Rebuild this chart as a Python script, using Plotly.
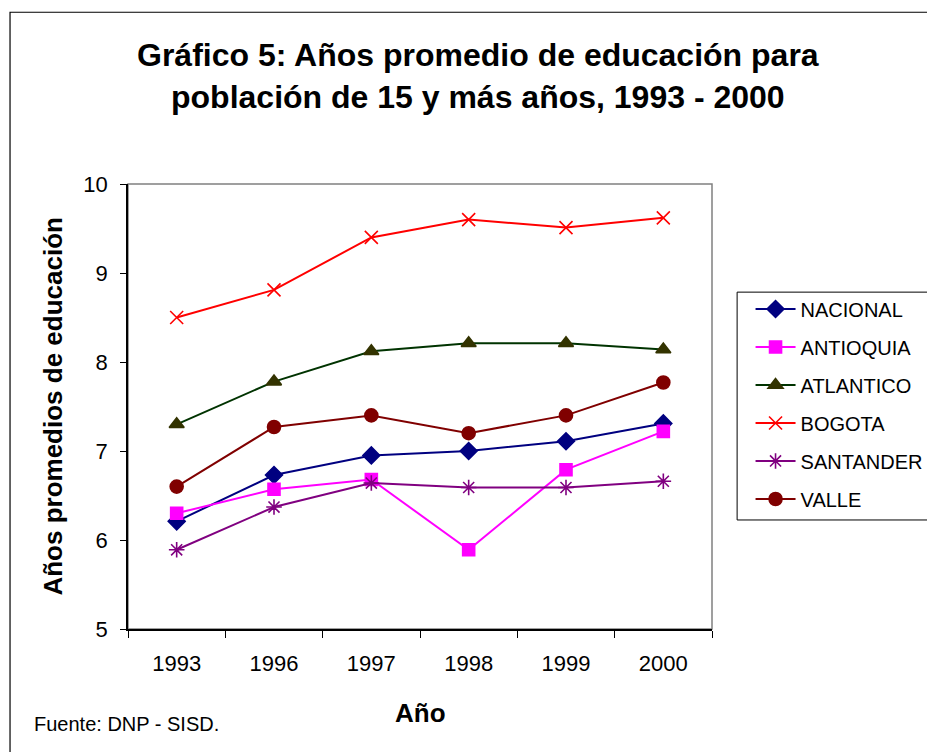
import plotly.graph_objects as go

# ── Data ────────────────────────────────────────────
years = ["1993", "1996", "1997", "1998", "1999", "2000"]

nacional = [6.21, 6.73, 6.95, 7.00, 7.11, 7.31]
antioquia = [6.30, 6.57, 6.68, 5.89, 6.79, 7.22]
atlantico = [7.30, 7.78, 8.12, 8.21, 8.21, 8.14]
bogota = [8.50, 8.81, 9.40, 9.60, 9.51, 9.62]
santander = [5.89, 6.37, 6.64, 6.59, 6.59, 6.66]
valle = [6.60, 7.27, 7.40, 7.20, 7.40, 7.77]

FONT = "Liberation Sans, Arial, sans-serif"

series = [
    ("NACIONAL", nacional, "#000080", "#000080", "diamond", 13),
    ("ANTIOQUIA", antioquia, "#FF00FF", "#FF00FF", "square", 12),
    ("ATLANTICO", atlantico, "#003300", "#333300", "triangle-up", 13),
    ("BOGOTA", bogota, "#FF0000", "#FF0000", "x-thin-open", 13),
    ("SANTANDER", santander, "#800080", "#800080", "asterisk-open", 13),
    ("VALLE", valle, "#800000", "#800000", "circle", 13),
]

fig = go.Figure()

for name, vals, lcol, mcol, sym, size in series:
    fig.add_trace(
        go.Scatter(
            x=years,
            y=vals,
            name=name,
            legendgroup=name,
            mode="lines+markers",
            line=dict(color=lcol, width=2),
            marker=dict(symbol=sym, size=size, color=mcol,
                        line=dict(color=mcol, width=1.6)),
        )
    )

# ── Frames ──────────────────────────────────────────
# outer chart border (right / bottom edges run off the window)
fig.add_shape(type="rect", xref="paper", yref="paper",
              x0=-0.202, x1=1.40, y0=-0.30, y1=1.386,
              line=dict(color="#000000", width=1.2), layer="below")
# plot-area frame (top/right gray)
fig.add_shape(type="rect", xref="paper", yref="paper",
              x0=0, x1=1, y0=0, y1=1,
              line=dict(color="#808080", width=1.5), layer="below")
# legend box, running off the right edge like the original
fig.add_shape(type="rect", xref="paper", yref="paper",
              x0=1.043, x1=1.40, y0=0.245, y1=0.757,
              line=dict(color="#000000", width=1), layer="below")

# ── Texts ───────────────────────────────────────────
fig.add_annotation(
    text="<b>Gráfico 5: Años promedio de educación para<br>población de 15 y más años, 1993 - 2000</b>",
    xref="paper", yref="paper", x=0.599, y=1.243,
    xanchor="center", yanchor="middle", showarrow=False,
    font=dict(family=FONT, size=32, color="#000000"),
)
fig.add_annotation(
    text="<b>Años promedios de educación</b>",
    xref="paper", yref="paper", x=-0.130, y=0.5, textangle=-90,
    xanchor="center", yanchor="middle", showarrow=False,
    font=dict(family=FONT, size=26, color="#000000"),
)
fig.add_annotation(
    text="<b>Año</b>",
    xref="paper", yref="paper", x=0.5, y=-0.189,
    xanchor="center", yanchor="middle", showarrow=False,
    font=dict(family=FONT, size=26, color="#000000"),
)
fig.add_annotation(
    text="Fuente: DNP - SISD.",
    xref="paper", yref="paper", x=-0.164, y=-0.2135,
    xanchor="left", yanchor="middle", showarrow=False,
    font=dict(family=FONT, size=20, color="#000000"),
)

# ── Layout ──────────────────────────────────────────
# page body adds an 8px offset, so the figure is 8px smaller on each side
fig.update_layout(
    width=927,
    height=744,
    paper_bgcolor="#FFFFFF",
    plot_bgcolor="#FFFFFF",
    margin=dict(l=120, r=223, t=176, b=123, autoexpand=False),
    font=dict(family=FONT, color="#000000"),
    showlegend=True,
    legend=dict(
        x=1.066, y=0.763, xanchor="left", yanchor="top",
        borderwidth=0, bgcolor="rgba(0,0,0,0)",
        font=dict(family=FONT, size=20, color="#000000"),
        traceorder="grouped", tracegroupgap=9,
        itemwidth=40,
    ),
    xaxis=dict(
        type="category",
        range=[-0.5, len(years) - 0.5],
        showline=True, linecolor="#000000", linewidth=1.5,
        ticks="outside", ticklen=7, tickcolor="#000000",
        tickson="boundaries",
        ticklabelstandoff=14,
        showgrid=False, zeroline=False,
        tickfont=dict(family=FONT, size=22),
    ),
    yaxis=dict(
        range=[5, 10], dtick=1,
        showline=True, linecolor="#000000", linewidth=1.5,
        ticks="outside", ticklen=6, tickcolor="#000000",
        ticklabelstandoff=8,
        showgrid=False, zeroline=False,
        tickfont=dict(family=FONT, size=22),
    ),
)

fig.write_html("out.html")
